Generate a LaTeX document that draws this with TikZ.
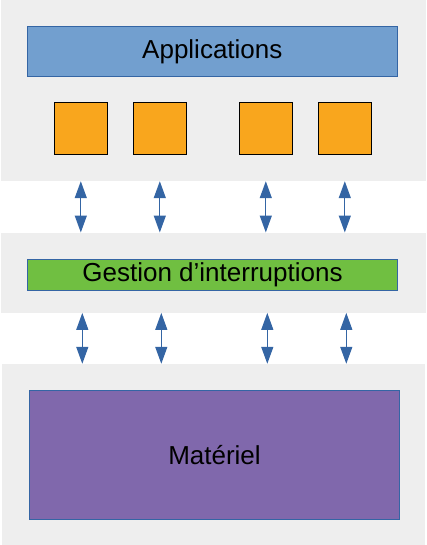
\documentclass[tikz,border=0pt]{standalone}
\usepackage{fontspec}
\setmainfont{Liberation Sans}
\usetikzlibrary{arrows, arrows.meta}
\usetikzlibrary{calc}

\definecolor{panelgray}{HTML}{EEEEEE}
\definecolor{appblue}{HTML}{729FCF}
\definecolor{edgeblue}{HTML}{3465A4}
\definecolor{taskorange}{HTML}{F9A61D}
\definecolor{irqgreen}{HTML}{70BF41}
\definecolor{hwpurple}{HTML}{8068AC}

\begin{document}
\begin{tikzpicture}[x=1pt, y=-1pt,
    panel/.style={rectangle, fill=panelgray, inner sep=0pt},
    bar/.style={rectangle, draw=edgeblue, line width=0.8pt, inner sep=0pt, font=\fontsize{26}{30}\selectfont},
    task/.style={rectangle, draw=black, fill=taskorange, line width=0.8pt, inner sep=0pt, minimum width=53pt, minimum height=52pt},
    link/.style={{Triangle[length=17pt, width=12pt]}-{Triangle[length=17pt, width=12pt]}, draw=edgeblue, fill=edgeblue, line width=1.3pt}]
    \useasboundingbox (0,0) rectangle (426,545);

    % layers
    \node[panel, minimum width=425pt, minimum height=181pt] (top) at (213,90.5) {};
    \node[panel, minimum width=425pt, minimum height=80pt] (mid) at (213,272.7) {};
    \node[panel, minimum width=423pt, minimum height=181pt] (bot) at (213.5,454.5) {};

    \node[bar, fill=appblue, minimum width=370.5pt, minimum height=50pt] (apps) at (212.3,51.3) {Applications};
    \node[task] (t1) at (80.8,128) {};
    \node[task] (t2) at (159.8,128) {};
    \node[task] (t3) at (265.8,128) {};
    \node[task] (t4) at (344.8,128) {};

    \node[bar, fill=irqgreen, minimum width=370.4pt, minimum height=31pt] (irq) at (212.5,274.8) {Gestion d’interruptions};
    \node[bar, fill=hwpurple, minimum width=370.4pt, minimum height=129.3pt] (hw) at (214.5,454.7) {Matériel};

    % links
    \draw[link] (top.south -| t1) -- (mid.north -| t1);
    \draw[link] (top.south -| t2) -- (mid.north -| t2);
    \draw[link] (top.south -| t3) -- (mid.north -| t3);
    \draw[link] (top.south -| t4) -- (mid.north -| t4);

    \draw[link] ([xshift=1.5pt]mid.south -| t1) -- ([xshift=1.5pt]bot.north -| t1);
    \draw[link] ([xshift=1.5pt]mid.south -| t2) -- ([xshift=1.5pt]bot.north -| t2);
    \draw[link] ([xshift=1.5pt]mid.south -| t3) -- ([xshift=1.5pt]bot.north -| t3);
    \draw[link] ([xshift=1.5pt]mid.south -| t4) -- ([xshift=1.5pt]bot.north -| t4);
  \end{tikzpicture}
\end{document}
